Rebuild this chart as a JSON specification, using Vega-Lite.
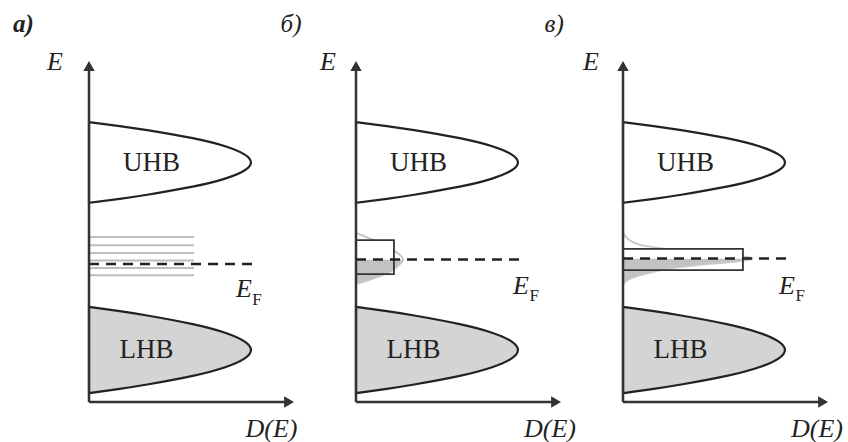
{
  "$schema": "https://vega.github.io/schema/vega-lite/v6.json",
  "autosize": {"type": "pad"},
  "padding": {"left": 12, "top": 11, "right": 0, "bottom": 0},
  "spacing": 62,
  "bounds": "flush",
  "config": {"view": {"stroke": null}, "text": {"font": "'Liberation Serif', 'Times New Roman', Times, serif", "color": "#222"}},
  "datasets": {
    "bands": [
      {"band": "UHB", "D": 0, "E": 82.1}, {"band": "UHB", "D": 15.0, "E": 80.92}, {"band": "UHB", "D": 28.4, "E": 79.73}, {"band": "UHB", "D": 50.6, "E": 77.36}, {"band": "UHB", "D": 66.4, "E": 74.99}, {"band": "UHB", "D": 75.8, "E": 72.62}, {"band": "UHB", "D": 79, "E": 70.25}, {"band": "UHB", "D": 75.8, "E": 67.88}, {"band": "UHB", "D": 66.4, "E": 65.51}, {"band": "UHB", "D": 50.6, "E": 63.14}, {"band": "UHB", "D": 28.4, "E": 60.77}, {"band": "UHB", "D": 15.0, "E": 59.58}, {"band": "UHB", "D": 0, "E": 58.4},
      {"band": "LHB", "D": 0, "E": 27.9}, {"band": "LHB", "D": 15.0, "E": 26.64}, {"band": "LHB", "D": 28.4, "E": 25.37}, {"band": "LHB", "D": 50.6, "E": 22.84}, {"band": "LHB", "D": 66.4, "E": 20.31}, {"band": "LHB", "D": 75.8, "E": 17.78}, {"band": "LHB", "D": 79, "E": 15.25}, {"band": "LHB", "D": 75.8, "E": 12.72}, {"band": "LHB", "D": 66.4, "E": 10.19}, {"band": "LHB", "D": 50.6, "E": 7.66}, {"band": "LHB", "D": 28.4, "E": 5.13}, {"band": "LHB", "D": 15.0, "E": 3.86}, {"band": "LHB", "D": 0, "E": 2.6}
    ],
    "bandLabels": [
      {"text": "UHB", "D": 30.5, "E": 70.2},
      {"text": "LHB", "D": 28, "E": 15.2}
    ],
    "axes": [
      {"D": 0, "E": 0, "D2": 0, "E2": 98},
      {"D": 0, "E": 0, "D2": 97, "E2": 0}
    ],
    "arrows": [
      {"dir": "up", "D": 0, "E": 98.55},
      {"dir": "right", "D": 97.6, "E": 0}
    ],
    "levels": [
      {"D": 0, "D2": 51.2, "E": 48.4},
      {"D": 0, "D2": 51.2, "E": 46.0},
      {"D": 0, "D2": 51.2, "E": 43.7},
      {"D": 0, "D2": 51.2, "E": 41.5},
      {"D": 0, "D2": 51.2, "E": 39.3},
      {"D": 0, "D2": 51.2, "E": 37.2}
    ],
    "fermi": [
      {"panel": "a", "D": 0, "D2": 81.5, "E": 40.5},
      {"panel": "b", "D": 0, "D2": 81.5, "E": 41.8},
      {"panel": "c", "D": 0, "D2": 81.5, "E": 42.1}
    ],
    "boxes": [
      {"panel": "b", "part": "upper", "D": 0, "D2": 18.5, "E": 41.8, "E2": 47.5},
      {"panel": "b", "part": "outline", "D": 0, "D2": 18.5, "E": 37.5, "E2": 47.5},
      {"panel": "c", "part": "upper", "D": 0, "D2": 58.5, "E": 42.1, "E2": 44.9},
      {"panel": "c", "part": "outline", "D": 0, "D2": 58.5, "E": 38.7, "E2": 44.9}
    ],
    "curves": [
      {"panel": "b", "part": "line", "i": 1, "D": 0, "E": 49.6},
      {"panel": "b", "part": "line", "i": 2, "D": 4.9, "E": 48.4},
      {"panel": "b", "part": "line", "i": 3, "D": 10.7, "E": 46.9},
      {"panel": "b", "part": "line", "i": 4, "D": 17.1, "E": 44.9},
      {"panel": "b", "part": "line", "i": 5, "D": 21, "E": 43.3},
      {"panel": "b", "part": "line", "i": 6, "D": 22.9, "E": 41.8},
      {"panel": "b", "part": "line", "i": 7, "D": 21, "E": 40.2},
      {"panel": "b", "part": "line", "i": 8, "D": 17.1, "E": 38.4},
      {"panel": "b", "part": "line", "i": 9, "D": 10.7, "E": 36.7},
      {"panel": "b", "part": "line", "i": 10, "D": 4.9, "E": 35.5},
      {"panel": "b", "part": "line", "i": 11, "D": 0, "E": 34.6},
      {"panel": "b", "part": "fill", "i": 1, "D": 0, "E": 34.6},
      {"panel": "b", "part": "fill", "i": 2, "D": 4.9, "E": 35.5},
      {"panel": "b", "part": "fill", "i": 3, "D": 10.7, "E": 36.7},
      {"panel": "b", "part": "fill", "i": 4, "D": 17.1, "E": 38.4},
      {"panel": "b", "part": "fill", "i": 5, "D": 21, "E": 40.2},
      {"panel": "b", "part": "fill", "i": 6, "D": 22.9, "E": 41.8},
      {"panel": "c", "part": "line", "i": 1, "D": 0, "E": 49.6},
      {"panel": "c", "part": "line", "i": 2, "D": 2.4, "E": 47.8},
      {"panel": "c", "part": "line", "i": 3, "D": 7.3, "E": 46.3},
      {"panel": "c", "part": "line", "i": 4, "D": 17.1, "E": 45.2},
      {"panel": "c", "part": "line", "i": 5, "D": 29.3, "E": 44.4},
      {"panel": "c", "part": "line", "i": 6, "D": 43.9, "E": 43.6},
      {"panel": "c", "part": "line", "i": 7, "D": 56.1, "E": 42.9},
      {"panel": "c", "part": "line", "i": 8, "D": 63.4, "E": 42.1},
      {"panel": "c", "part": "line", "i": 9, "D": 56.1, "E": 41.3},
      {"panel": "c", "part": "line", "i": 10, "D": 43.9, "E": 40.6},
      {"panel": "c", "part": "line", "i": 11, "D": 29.3, "E": 39.7},
      {"panel": "c", "part": "line", "i": 12, "D": 17.1, "E": 38.5},
      {"panel": "c", "part": "line", "i": 13, "D": 7.3, "E": 37.0},
      {"panel": "c", "part": "line", "i": 14, "D": 2.4, "E": 35.8},
      {"panel": "c", "part": "line", "i": 15, "D": 0, "E": 34.6},
      {"panel": "c", "part": "fill", "i": 1, "D": 0, "E": 34.6},
      {"panel": "c", "part": "fill", "i": 2, "D": 2.4, "E": 35.8},
      {"panel": "c", "part": "fill", "i": 3, "D": 7.3, "E": 37.0},
      {"panel": "c", "part": "fill", "i": 4, "D": 17.1, "E": 38.5},
      {"panel": "c", "part": "fill", "i": 5, "D": 29.3, "E": 39.7},
      {"panel": "c", "part": "fill", "i": 6, "D": 43.9, "E": 40.6},
      {"panel": "c", "part": "fill", "i": 7, "D": 56.1, "E": 41.3},
      {"panel": "c", "part": "fill", "i": 8, "D": 63.4, "E": 42.1}
    ],
    "texts": [
      {"panel": "a", "kind": "panel", "text": "а)", "D": -32, "E": 110.9},
      {"panel": "a", "kind": "axisE", "text": "E", "D": -16.6, "E": 99.7},
      {"panel": "a", "kind": "efE", "text": "E", "D": 75.6, "E": 33.0},
      {"panel": "a", "kind": "efF", "text": "F", "D": 82.0, "E": 30.0},
      {"panel": "a", "kind": "dos", "text": "D(E)", "D": 89, "E": -7.9},
      {"panel": "b", "kind": "panel", "text": "б)", "D": -31.7, "E": 110.9},
      {"panel": "b", "kind": "axisE", "text": "E", "D": -13.7, "E": 99.7},
      {"panel": "b", "kind": "efE", "text": "E", "D": 80.5, "E": 34},
      {"panel": "b", "kind": "efF", "text": "F", "D": 86.9, "E": 31.0},
      {"panel": "b", "kind": "dos", "text": "D(E)", "D": 94.6, "E": -7.9},
      {"panel": "c", "kind": "panel", "text": "в)", "D": -33.6, "E": 110.9},
      {"panel": "c", "kind": "axisE", "text": "E", "D": -15.6, "E": 99.7},
      {"panel": "c", "kind": "efE", "text": "E", "D": 80.0, "E": 34},
      {"panel": "c", "kind": "efF", "text": "F", "D": 86.4, "E": 31.0},
      {"panel": "c", "kind": "dos", "text": "D(E)", "D": 94.6, "E": -7.9}
    ]
  },
  "hconcat": [
    {
      "width": 205, "height": 341,
      "encoding": {
        "x": {"field": "D", "type": "quantitative", "scale": {"domain": [0, 100], "nice": false, "zero": false}, "axis": null},
        "y": {"field": "E", "type": "quantitative", "scale": {"domain": [0, 100], "nice": false, "zero": false}, "axis": null}
      },
      "layer": [
        {"data": {"name": "levels"}, "mark": {"type": "rule", "color": "#bdbdbd", "strokeWidth": 2}, "encoding": {"x2": {"field": "D2"}}},
        {"data": {"name": "bands"}, "mark": {"type": "area", "orient": "horizontal", "interpolate": "natural", "stroke": "#222", "strokeWidth": 2.2, "opacity": 1},
          "encoding": {
            "x": {"field": "D", "type": "quantitative", "stack": null, "scale": {"domain": [0, 100], "nice": false, "zero": false}, "axis": null},
            "color": {"field": "band", "type": "nominal", "scale": {"domain": ["UHB", "LHB"], "range": ["#ffffff", "#d4d4d4"]}, "legend": null}
          }},
        {"data": {"name": "axes"}, "mark": {"type": "rule", "color": "#333", "strokeWidth": 2.5}, "encoding": {"x2": {"field": "D2"}, "y2": {"field": "E2"}}},
        {"data": {"name": "arrows"}, "transform": [{"filter": "datum.dir == 'up'"}], "mark": {"type": "point", "shape": "triangle-up", "filled": true, "color": "#333", "size": 130, "opacity": 1}},
        {"data": {"name": "arrows"}, "transform": [{"filter": "datum.dir == 'right'"}], "mark": {"type": "point", "shape": "triangle-right", "filled": true, "color": "#333", "size": 130, "opacity": 1}},
        {"data": {"name": "fermi"}, "transform": [{"filter": "datum.panel == 'a'"}], "mark": {"type": "rule", "color": "#222", "strokeWidth": 2.5, "strokeDash": [10, 7]}, "encoding": {"x2": {"field": "D2"}}},
        {"data": {"name": "bandLabels"}, "mark": {"type": "text", "fontSize": 27, "align": "center", "baseline": "middle"}, "encoding": {"text": {"field": "text"}}},
        {"data": {"name": "texts"}, "transform": [{"filter": "datum.panel == 'a' && datum.kind == 'panel'"}], "mark": {"type": "text", "fontSize": 25, "fontStyle": "italic", "fontWeight": "bold", "align": "center", "baseline": "middle"}, "encoding": {"text": {"field": "text"}}},
        {"data": {"name": "texts"}, "transform": [{"filter": "datum.panel == 'a' && (datum.kind == 'axisE' || datum.kind == 'efE' || datum.kind == 'dos')"}], "mark": {"type": "text", "fontSize": 26, "fontStyle": "italic", "align": "center", "baseline": "middle"}, "encoding": {"text": {"field": "text"}}},
        {"data": {"name": "texts"}, "transform": [{"filter": "datum.panel == 'a' && datum.kind == 'efF'"}], "mark": {"type": "text", "fontSize": 17, "align": "center", "baseline": "middle"}, "encoding": {"text": {"field": "text"}}}
      ]
    },
    {
      "width": 205, "height": 341,
      "encoding": {
        "x": {"field": "D", "type": "quantitative", "scale": {"domain": [0, 100], "nice": false, "zero": false}, "axis": null},
        "y": {"field": "E", "type": "quantitative", "scale": {"domain": [0, 100], "nice": false, "zero": false}, "axis": null}
      },
      "layer": [
        {"data": {"name": "curves"}, "transform": [{"filter": "datum.panel == 'b' && datum.part == 'fill'"}], "mark": {"type": "area", "orient": "horizontal", "interpolate": "natural", "color": "#c2c2c2", "opacity": 1},
          "encoding": {"x": {"field": "D", "type": "quantitative", "stack": null, "scale": {"domain": [0, 100], "nice": false, "zero": false}, "axis": null}}},
        {"data": {"name": "curves"}, "transform": [{"filter": "datum.panel == 'b' && datum.part == 'line'"}], "mark": {"type": "line", "interpolate": "natural", "color": "#c8c8c8", "strokeWidth": 2}, "encoding": {"order": {"field": "i", "type": "quantitative"}}},
        {"data": {"name": "boxes"}, "transform": [{"filter": "datum.panel == 'b' && datum.part == 'upper'"}], "mark": {"type": "rect", "color": "#ffffff", "opacity": 1}, "encoding": {"x2": {"field": "D2"}, "y2": {"field": "E2"}}},
        {"data": {"name": "boxes"}, "transform": [{"filter": "datum.panel == 'b' && datum.part == 'outline'"}], "mark": {"type": "rect", "fill": null, "fillOpacity": 0, "stroke": "#333", "strokeWidth": 1.8}, "encoding": {"x2": {"field": "D2"}, "y2": {"field": "E2"}}},
        {"data": {"name": "bands"}, "mark": {"type": "area", "orient": "horizontal", "interpolate": "natural", "stroke": "#222", "strokeWidth": 2.2, "opacity": 1},
          "encoding": {
            "x": {"field": "D", "type": "quantitative", "stack": null, "scale": {"domain": [0, 100], "nice": false, "zero": false}, "axis": null},
            "color": {"field": "band", "type": "nominal", "scale": {"domain": ["UHB", "LHB"], "range": ["#ffffff", "#d4d4d4"]}, "legend": null}
          }},
        {"data": {"name": "axes"}, "mark": {"type": "rule", "color": "#333", "strokeWidth": 2.5}, "encoding": {"x2": {"field": "D2"}, "y2": {"field": "E2"}}},
        {"data": {"name": "arrows"}, "transform": [{"filter": "datum.dir == 'up'"}], "mark": {"type": "point", "shape": "triangle-up", "filled": true, "color": "#333", "size": 130, "opacity": 1}},
        {"data": {"name": "arrows"}, "transform": [{"filter": "datum.dir == 'right'"}], "mark": {"type": "point", "shape": "triangle-right", "filled": true, "color": "#333", "size": 130, "opacity": 1}},
        {"data": {"name": "fermi"}, "transform": [{"filter": "datum.panel == 'b'"}], "mark": {"type": "rule", "color": "#222", "strokeWidth": 2.5, "strokeDash": [10, 7]}, "encoding": {"x2": {"field": "D2"}}},
        {"data": {"name": "bandLabels"}, "mark": {"type": "text", "fontSize": 27, "align": "center", "baseline": "middle"}, "encoding": {"text": {"field": "text"}}},
        {"data": {"name": "texts"}, "transform": [{"filter": "datum.panel == 'b' && datum.kind == 'panel'"}], "mark": {"type": "text", "fontSize": 25, "fontStyle": "italic", "align": "center", "baseline": "middle"}, "encoding": {"text": {"field": "text"}}},
        {"data": {"name": "texts"}, "transform": [{"filter": "datum.panel == 'b' && (datum.kind == 'axisE' || datum.kind == 'efE' || datum.kind == 'dos')"}], "mark": {"type": "text", "fontSize": 26, "fontStyle": "italic", "align": "center", "baseline": "middle"}, "encoding": {"text": {"field": "text"}}},
        {"data": {"name": "texts"}, "transform": [{"filter": "datum.panel == 'b' && datum.kind == 'efF'"}], "mark": {"type": "text", "fontSize": 17, "align": "center", "baseline": "middle"}, "encoding": {"text": {"field": "text"}}}
      ]
    },
    {
      "width": 205, "height": 341,
      "encoding": {
        "x": {"field": "D", "type": "quantitative", "scale": {"domain": [0, 100], "nice": false, "zero": false}, "axis": null},
        "y": {"field": "E", "type": "quantitative", "scale": {"domain": [0, 100], "nice": false, "zero": false}, "axis": null}
      },
      "layer": [
        {"data": {"name": "curves"}, "transform": [{"filter": "datum.panel == 'c' && datum.part == 'fill'"}], "mark": {"type": "area", "orient": "horizontal", "interpolate": "natural", "color": "#c2c2c2", "opacity": 1},
          "encoding": {"x": {"field": "D", "type": "quantitative", "stack": null, "scale": {"domain": [0, 100], "nice": false, "zero": false}, "axis": null}}},
        {"data": {"name": "curves"}, "transform": [{"filter": "datum.panel == 'c' && datum.part == 'line'"}], "mark": {"type": "line", "interpolate": "natural", "color": "#c8c8c8", "strokeWidth": 2}, "encoding": {"order": {"field": "i", "type": "quantitative"}}},
        {"data": {"name": "boxes"}, "transform": [{"filter": "datum.panel == 'c' && datum.part == 'upper'"}], "mark": {"type": "rect", "color": "#ffffff", "opacity": 1}, "encoding": {"x2": {"field": "D2"}, "y2": {"field": "E2"}}},
        {"data": {"name": "boxes"}, "transform": [{"filter": "datum.panel == 'c' && datum.part == 'outline'"}], "mark": {"type": "rect", "fill": null, "fillOpacity": 0, "stroke": "#333", "strokeWidth": 1.8}, "encoding": {"x2": {"field": "D2"}, "y2": {"field": "E2"}}},
        {"data": {"name": "bands"}, "mark": {"type": "area", "orient": "horizontal", "interpolate": "natural", "stroke": "#222", "strokeWidth": 2.2, "opacity": 1},
          "encoding": {
            "x": {"field": "D", "type": "quantitative", "stack": null, "scale": {"domain": [0, 100], "nice": false, "zero": false}, "axis": null},
            "color": {"field": "band", "type": "nominal", "scale": {"domain": ["UHB", "LHB"], "range": ["#ffffff", "#d4d4d4"]}, "legend": null}
          }},
        {"data": {"name": "axes"}, "mark": {"type": "rule", "color": "#333", "strokeWidth": 2.5}, "encoding": {"x2": {"field": "D2"}, "y2": {"field": "E2"}}},
        {"data": {"name": "arrows"}, "transform": [{"filter": "datum.dir == 'up'"}], "mark": {"type": "point", "shape": "triangle-up", "filled": true, "color": "#333", "size": 130, "opacity": 1}},
        {"data": {"name": "arrows"}, "transform": [{"filter": "datum.dir == 'right'"}], "mark": {"type": "point", "shape": "triangle-right", "filled": true, "color": "#333", "size": 130, "opacity": 1}},
        {"data": {"name": "fermi"}, "transform": [{"filter": "datum.panel == 'c'"}], "mark": {"type": "rule", "color": "#222", "strokeWidth": 2.5, "strokeDash": [10, 7]}, "encoding": {"x2": {"field": "D2"}}},
        {"data": {"name": "bandLabels"}, "mark": {"type": "text", "fontSize": 27, "align": "center", "baseline": "middle"}, "encoding": {"text": {"field": "text"}}},
        {"data": {"name": "texts"}, "transform": [{"filter": "datum.panel == 'c' && datum.kind == 'panel'"}], "mark": {"type": "text", "fontSize": 25, "fontStyle": "italic", "align": "center", "baseline": "middle"}, "encoding": {"text": {"field": "text"}}},
        {"data": {"name": "texts"}, "transform": [{"filter": "datum.panel == 'c' && (datum.kind == 'axisE' || datum.kind == 'efE' || datum.kind == 'dos')"}], "mark": {"type": "text", "fontSize": 26, "fontStyle": "italic", "align": "center", "baseline": "middle"}, "encoding": {"text": {"field": "text"}}},
        {"data": {"name": "texts"}, "transform": [{"filter": "datum.panel == 'c' && datum.kind == 'efF'"}], "mark": {"type": "text", "fontSize": 17, "align": "center", "baseline": "middle"}, "encoding": {"text": {"field": "text"}}}
      ]
    }
  ]
}
